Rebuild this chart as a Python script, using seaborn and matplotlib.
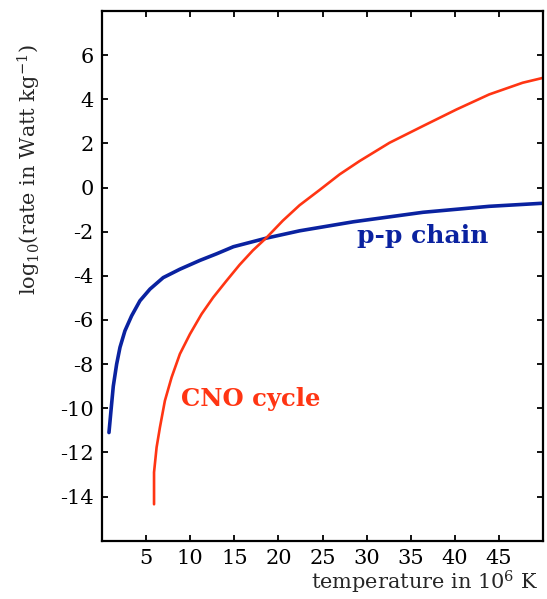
import numpy as np
import pandas as pd
import matplotlib
matplotlib.use("Agg")
import matplotlib.pyplot as plt
import seaborn as sns

# ---- data ----
pp_temp = [0.79, 1.02, 1.28, 1.66, 2.04, 2.6, 3.36, 4.3, 5.44, 6.94, 8.83, 11.1, 13.0, 14.9,
           18.65, 22.4, 28.5, 36.4, 43.9, 50.0]
pp_rate = [-11.1, -10.1, -9.0, -8.0, -7.24, -6.49, -5.81, -5.13, -4.6, -4.08, -3.7, -3.3, -3.0, -2.68,
           -2.29, -1.96, -1.55, -1.12, -0.85, -0.71]

cno_temp = [5.9, 5.9, 6.19, 6.57, 7.13, 7.89, 8.83, 9.97, 11.29, 12.6, 14.1, 15.6, 17.1, 18.65,
            20.5, 22.4, 24.7, 26.95, 29.2, 32.6, 36.4, 40.2, 43.9, 47.7, 50.0]
cno_rate = [-14.35, -12.9, -11.77, -10.86, -9.66, -8.6, -7.54, -6.64, -5.73, -4.98, -4.23, -3.5, -2.85, -2.27,
            -1.5, -0.8, -0.1, 0.6, 1.2, 2.03, 2.79, 3.54, 4.22, 4.75, 4.97]

x_ticks = [5, 10, 15, 20, 25, 30, 35, 40, 45]
y_ticks = [-14, -12, -10, -8, -6, -4, -2, 0, 2, 4, 6]

labels = {"pp": "p-p chain", "cno": "CNO cycle"}
blue = "#0a22a0"
red = "#ff3513"

sns.set_theme(style="ticks")
plt.rcParams["font.family"] = ["DejaVu Serif"]
plt.rcParams["mathtext.fontset"] = "dejavuserif"
plt.rcParams["mathtext.default"] = "regular"
plt.rcParams["axes.unicode_minus"] = False

fig = plt.figure(figsize=(5.47, 5.99), dpi=100)
ax = fig.add_axes([102 / 547, 1 - 540.7 / 599, 441 / 547, 529.7 / 599])

pp_df = pd.DataFrame({"T": pp_temp, "rate": pp_rate})
cno_df = pd.DataFrame({"T": cno_temp, "rate": cno_rate})
sns.lineplot(data=pp_df, x="T", y="rate", ax=ax, color=blue, lw=2.6, sort=False, estimator=None)
sns.lineplot(data=cno_df, x="T", y="rate", ax=ax, color=red, lw=1.9, sort=False, estimator=None)

ax.set_xlim(0, 50)
ax.set_ylim(-16, 8)
ax.set_xticks(x_ticks)
ax.set_yticks(y_ticks)
ax.tick_params(direction="in", length=4.5, width=1.3, top=True, right=True,
               labelsize=15, colors="black", pad=6)
for s in ax.spines.values():
    s.set_linewidth(1.6)
    s.set_color("black")

ax.set_xlabel("temperature in 10$^{6}$ K", fontsize=15)
ax.xaxis.label.set_ha("right")
ax.xaxis.label.set_va("center")
ax.xaxis.set_label_coords(0.99, -0.079)

ax.set_ylabel("log$_{10}$(rate in Watt kg$^{-1}$)", fontsize=15)
ax.yaxis.label.set_va("center")
ax.yaxis.set_label_coords(-0.165, 0.70)

ax.text(28.9, -2.2, labels["pp"], color=blue, fontsize=18, fontweight="bold",
        ha="left", va="center")
ax.text(9.0, -9.6, labels["cno"], color=red, fontsize=17.5, fontweight="bold",
        ha="left", va="center")

fig.savefig("out.png", dpi=100)
